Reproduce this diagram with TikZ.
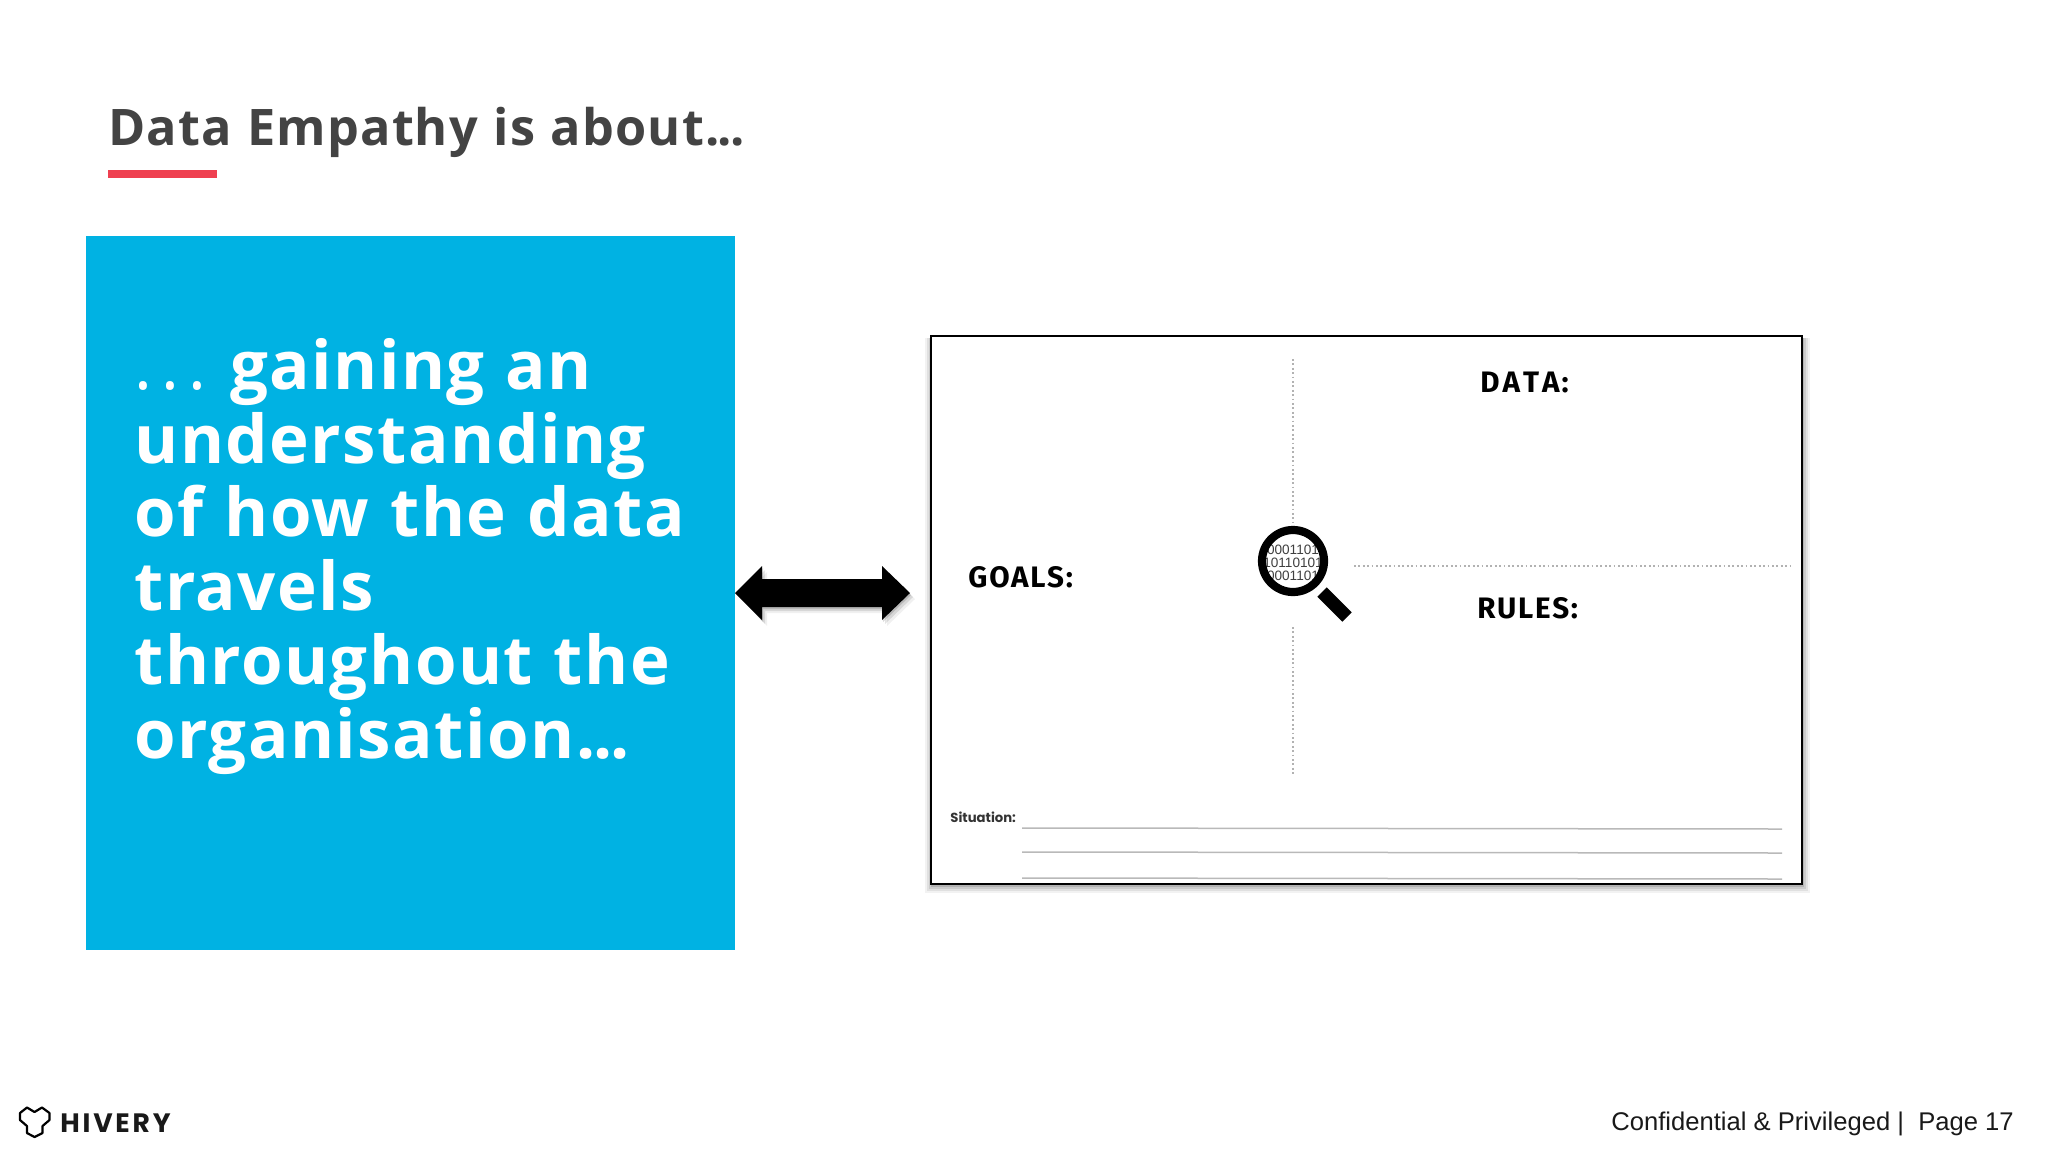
\documentclass[tikz,border=0pt]{standalone}
\usepackage{fontspec}
\setmainfont{Open Sans}
\newfontfamily\bodyf[LetterSpace=2.2,WordSpace=1.11]{Open Sans}
\newfontfamily\arialf{Liberation Sans}
\newfontfamily\handf[LetterSpace=6]{Fira Sans}
\newfontfamily\logof{Poppins}
\newcommand{\fs}[1]{\fontsize{#1}{#1}\selectfont}
\newcommand{\tdots}{.\kern-0.9pt.\kern-0.9pt.}
\definecolor{titlegrey}{HTML}{434343}
\definecolor{hblue}{HTML}{00B2E3}
\definecolor{hred}{HTML}{EF4050}
\tikzset{
  x=0.5pt,y=-0.5pt,
  label/.style={inner sep=0pt,anchor=base west},
  bodytext/.style={label,text=white,font=\bodyf\bfseries\fs{33.6}},
  handlabel/.style={label,font=\handf\bfseries\fs{14.8}},
  dotline/.style={draw=gray!60,line width=0.8pt,dash pattern=on 0.9pt off 1.3pt},
  ruled/.style={draw=gray!55,line width=0.75pt},
}
\begin{document}
\begin{tikzpicture}
\useasboundingbox (0,0) rectangle (2048,1152);
\fill[white] (0,0) rectangle (2048,1152);
% title
\node[label,text=titlegrey,font=\bodyf\bfseries\fs{25.2}] (title) at (108,145) {Data Empathy is about\tdots};
\fill[hred] (108,170) rectangle (217,178);
% blue panel
\fill[hblue] (86,236) rectangle (735,950);
\node[bodytext] (l1) at (134,389) {{\mdseries.\kern4.5pt.\kern4.5pt.}\kern12pt gaining an};
\node[bodytext] (l2) at (134,463) {understanding};
\node[bodytext] (l3) at (134,536) {of how the data};
\node[bodytext] (l4) at (134,610) {travels};
\node[bodytext] (l5) at (134,684) {throughout the};
\node[bodytext] (l6) at (134,758) {organisation\tdots};
% frame shadow
\foreach \o/\a in {8/0.05,6/0.07,4/0.09,2/0.12}{
  \fill[black,opacity=\a] (931-\o+2,336+2) rectangle (1802+\o,884+\o+1);
}
\draw[black,line width=1.1pt,fill=white] (931,336) rectangle (1802,884);
% arrow shadow
\foreach \o/\a in {6/0.06,4/0.10,2/0.14}{
  \fill[black,opacity=\a,shift={(\o-1,\o)}] (737,593) -- (762,566) -- (762,579) -- (882,579) -- (882,566) -- (910,593) -- (882,620) -- (882,607) -- (762,607) -- (762,620) -- cycle;
}
\fill[black] (735,593) -- (762,566) -- (762,579) -- (882,579) -- (882,566) -- (910,593) -- (882,620) -- (882,607) -- (762,607) -- (762,620) -- cycle;
% quadrants
\draw[dotline] (1293,359) -- (1293,522);
\draw[dotline] (1293,627) -- (1293,776);
\draw[dotline] (1354,566) -- (1792,566);
\node[handlabel] (data) at (1480,392) {D\kern1.5pt A\kern1.5pt T\kern1.5pt A\kern1pt:};
\node[handlabel] (goals) at (968,587) {GOALS:};
\node[handlabel] (rules) at (1477,618) {RULES:};
% magnifier
\begin{scope}
\clip (1293,561) circle (30);
\node[font=\arialf\fs{6.8},text=black!75,inner sep=0pt] (bits1) at (1293,550) {01000110101};
\node[font=\arialf\fs{6.8},text=black!75,inner sep=0pt] (bits2) at (1293,563) {0101101010};
\node[font=\arialf\fs{6.8},text=black!75,inner sep=0pt] (bits3) at (1293,576) {01000110101};
\end{scope}
\draw[black,line width=4.1pt] (1293,561) circle (31);
\draw[black,line width=6.6pt] (1322,592) -- (1347,617);
% situation
\node[label,font=\logof\bfseries\fs{6.6},text=black!80] (sit) at (950,822) {Situation:};
\draw[ruled] (1022,828) -- (1782,829);
\draw[ruled] (1022,852) -- (1782,853);
\draw[ruled] (1022,878) -- (1782,879);
% footer
\draw[black,line width=1.1pt,line join=round] (20,1113) -- (27,1107.5) -- (34.5,1112) -- (42,1107.5) -- (49.5,1113) -- (49.5,1120) -- (42.5,1126) -- (42.5,1133) -- (34.5,1137) -- (27,1133) -- (27,1126) -- (20,1120) -- cycle;
\node[label,font=\logof\bfseries\fs{13.3},text=black!90] (logo) at (60,1132) {H\kern1.4pt I\kern1.4pt V\kern1.4pt E\kern1.4pt R\kern1.4pt Y};
\node[label,font=\arialf\fs{12.8},text=black!90] (foot) at (1611,1130) {Confidential \& Privileged |\ \ Page 17};
\end{tikzpicture}
\end{document}
